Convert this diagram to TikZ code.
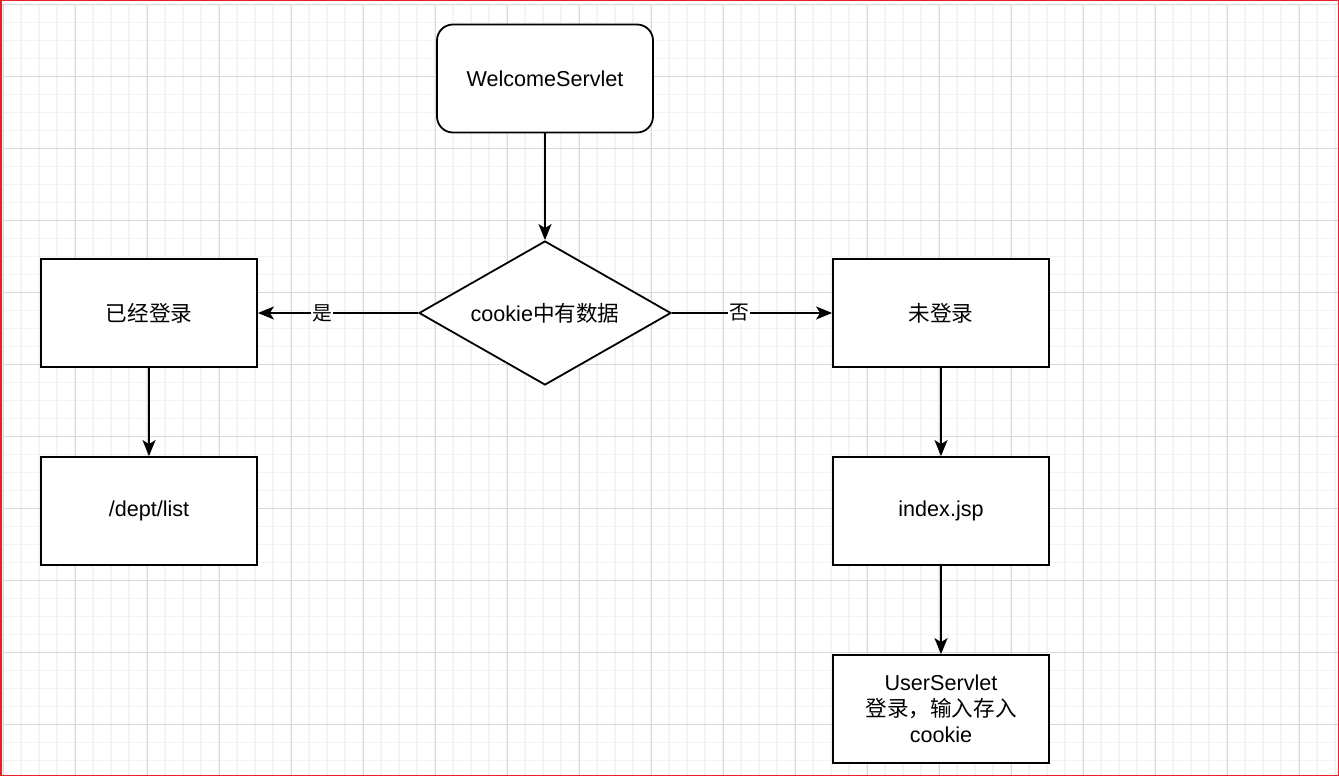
\documentclass[tikz,border=0pt]{standalone}
\usepackage{fontspec}
\setmainfont{Liberation Sans}
\newfontfamily\cjk{Noto Sans CJK SC}
\usetikzlibrary{arrows.meta, shapes.geometric, positioning}
\definecolor{gridminor}{HTML}{F3F3F3}
\definecolor{gridmajor}{HTML}{D9D9D9}
\definecolor{framered}{HTML}{E8202A}

\begin{document}
\begin{tikzpicture}[x=1pt, y=-1pt,
    box/.style={draw, line width=1.8pt, fill=white, minimum width=216pt, minimum height=108pt,
      align=center, font=\fontsize{21.6}{26}\selectfont},
    start/.style={box, rounded corners=16pt},
    decision/.style={draw, diamond, line width=1.8pt, fill=white, inner sep=0pt, aspect=1.75,
      minimum width=252pt, minimum height=144pt, font=\fontsize{21.6}{26}\selectfont},
    flow/.style={-{Stealth[length=16pt, width=13pt, inset=4pt]}, line width=1.8pt},
    lbl/.style={fill=white, inner sep=1pt, font=\fontsize{19.8}{22}\cjk}]
  \useasboundingbox (0,0) rectangle (1339,776);

  % background grid
  \foreach \x in {3,21,...,1335}
    \draw[gridminor, line width=1.5pt] (\x,4.5) -- (\x,776);
  \foreach \y in {4.5,22.5,...,775}
    \draw[gridminor, line width=1.5pt] (3,\y) -- (1339,\y);
  \foreach \x in {3,75,...,1335}
    \draw[gridmajor, line width=0.8pt] (\x,4.5) -- (\x,776);
  \foreach \y in {4.5,76.5,...,775}
    \draw[gridmajor, line width=0.8pt] (3,\y) -- (1339,\y);
  \draw[framered, line width=1.5pt] (0.75,0.75) rectangle (1338.25,775.25);

  \node[start] (welcome) at (545,78.5) {WelcomeServlet};
  \node[decision] (check) at (545,313) {cookie{\cjk 中有数据}};
  \node[box] (logged) at (149,313) {{\cjk 已经登录}};
  \node[box] (notlogged) at (941,313) {{\cjk 未登录}};
  \node[box] (deptlist) at (149,511) {/dept/list};
  \node[box] (index) at (941,511) {index.jsp};
  \node[box] (userservlet) at (941,709) {UserServlet\\{\cjk 登录，输入存入}\\cookie};

  \draw[flow] (welcome) -- (check);
  \draw[flow] (check) -- node[lbl, pos=0.6] {是} (logged);
  \draw[flow] (check) -- node[lbl, pos=0.42] {否} (notlogged);
  \draw[flow] (logged) -- (deptlist);
  \draw[flow] (notlogged) -- (index);
  \draw[flow] (index) -- (userservlet);
\end{tikzpicture}
\end{document}
